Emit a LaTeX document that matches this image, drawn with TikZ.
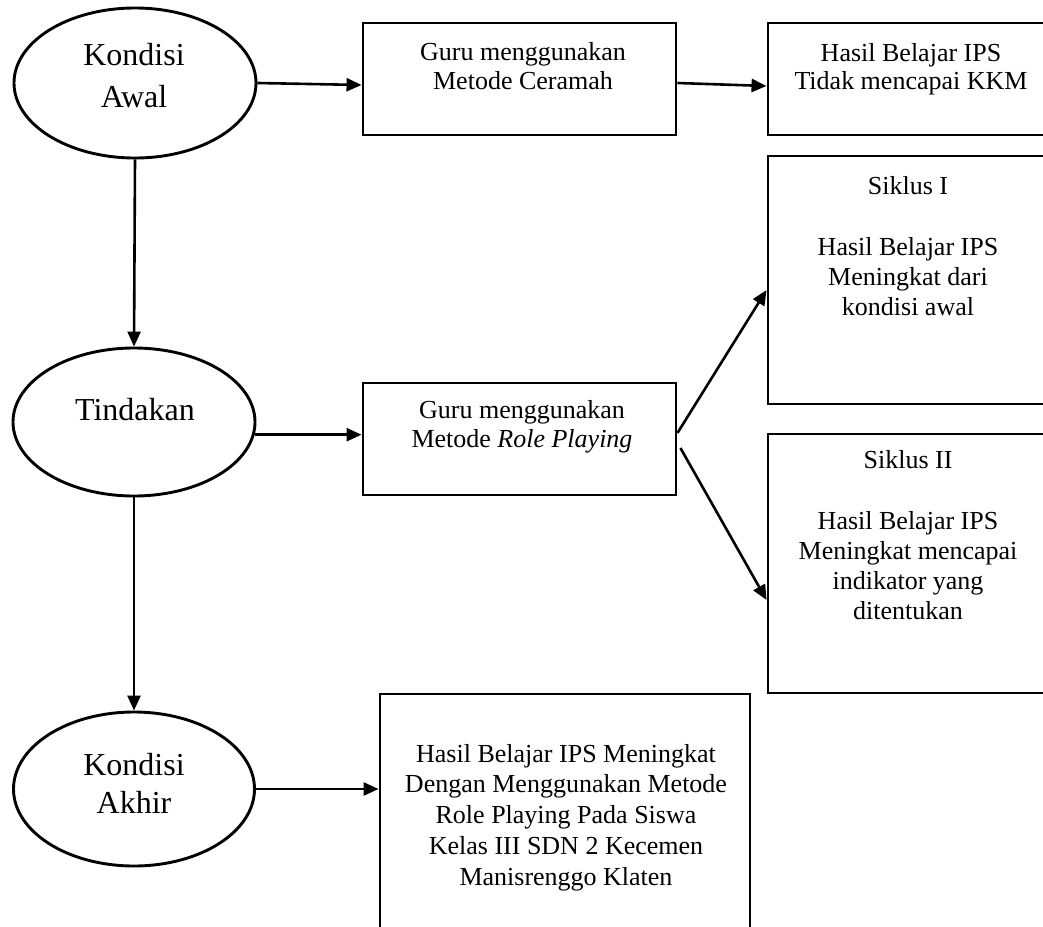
\documentclass[tikz,border=0pt]{standalone}
\usepackage{fontspec}
\setmainfont{Liberation Serif}
\usetikzlibrary{arrows.meta,shapes.geometric}
\newcommand{\tstrut}{\rule{0pt}{20pt}}
\newcommand{\estrut}{\rule{0pt}{25pt}}
\begin{document}
\begin{tikzpicture}[x=1pt,y=-1pt,
  shapeline/.style={draw=black, line width=2.9pt},
  ell/.style={shapeline, ellipse, inner sep=0pt},
  box/.style={shapeline, rectangle, inner sep=0pt},
  lbl/.style={anchor=north, inner sep=0pt, align=center, font=\fontsize{26}{30}\selectfont},
  elbl/.style={anchor=north, inner sep=0pt, align=center, font=\fontsize{32}{42}\selectfont},
  arr/.style={line width=2.6pt, -{Triangle[length=15pt,width=13pt]}}
]
\useasboundingbox (0,0) rectangle (1043,926);
\clip (0,0) rectangle (1043,926);

% ellipses
\node[ell, minimum width=242pt, minimum height=150pt] (awal) at (135,83) {};
\node[ell, minimum width=242pt, minimum height=148pt] (tind) at (134,422) {};
\node[ell, minimum width=241pt, minimum height=154pt] (akhir) at (134,789) {};

% boxes
\node[box, minimum width=313pt, minimum height=112pt] (b1) at (519.5,79) {};
\node[box, minimum width=284pt, minimum height=112pt] (kkm) at (910,79) {};
\node[box, minimum width=284pt, minimum height=248pt] (s1) at (910,280) {};
\node[box, minimum width=284pt, minimum height=259pt] (s2) at (910,563.5) {};
\node[box, minimum width=313pt, minimum height=112pt] (rp) at (519.5,439) {};
\node[box, minimum width=370pt, minimum height=270pt] (fin) at (565,829) {};

% texts
\node[elbl] (tawal) at (134,40) {\estrut Kondisi\\Awal};
\node[elbl] (ttind) at (135,395) {\estrut Tindakan};
\node[elbl, font=\fontsize{32}{38}\selectfont] (takhir) at (134,750) {\estrut Kondisi\\Akhir};

\node[lbl, font=\fontsize{26}{29}\selectfont] (tb1) at (523,40) {\tstrut Guru menggunakan\\Metode Ceramah};
\node[lbl, font=\fontsize{26}{28}\selectfont] (tkkm) at (911,41) {\tstrut Hasil Belajar IPS\\Tidak mencapai KKM};
\node[lbl] (ts1) at (908,174) {\tstrut Siklus I\\[31pt]Hasil Belajar IPS\\Meningkat dari\\kondisi awal};
\node[lbl] (ts2) at (908,448) {\tstrut Siklus II\\[31pt]Hasil Belajar IPS\\Meningkat mencapai\\indikator yang\\ditentukan};
\node[lbl, font=\fontsize{26}{29}\selectfont] (trp) at (522,398) {\tstrut Guru menggunakan\\Metode \textit{Role Playing}};
\node[lbl, font=\fontsize{26}{30.75}\selectfont] (tfin) at (566,742) {\tstrut Hasil Belajar IPS Meningkat\\Dengan Menggunakan Metode\\Role Playing Pada Siswa\\Kelas III SDN 2 Kecemen\\Manisrenggo Klaten};

% connectors
\draw[arr] (awal.east) -- ([yshift=-6pt]b1.west);
\draw[arr] ([yshift=-4pt]b1.east) -- ([yshift=-7pt]kkm.west);
\draw[arr] (awal.south) -- (tind.north);
\draw[arr] (tind.south) -- (akhir.north);
\draw[arr] (tind.-6) -- (tind.-6 -| rp.west);
\draw[arr] (akhir.east) -- (akhir.east -| fin.west);
\draw[arr] ([yshift=6pt]rp.east) -- ([yshift=-10pt]s1.west);
\draw[arr] ([xshift=3pt,yshift=-9pt]rp.east) -- ([yshift=-36.5pt]s2.west);
\end{tikzpicture}
\end{document}
